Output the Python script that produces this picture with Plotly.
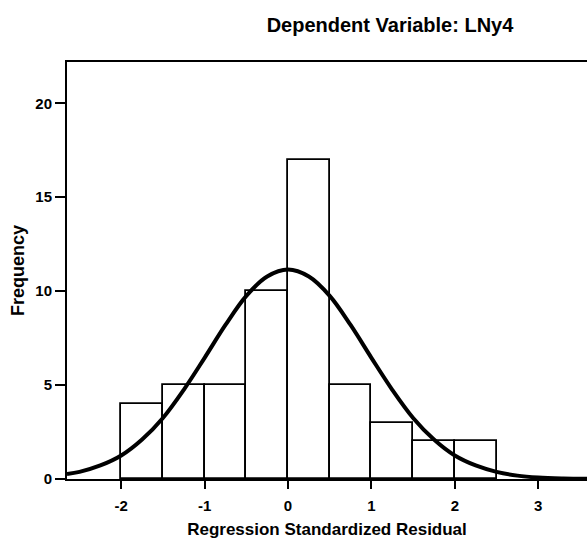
import plotly.graph_objects as go

# Histogram bins (left edges), width 0.5
bin_left = [-2.0, -1.5, -1.0, -0.5, 0.0, 0.5, 1.0, 1.5, 2.0]
counts = [4, 5, 5, 10, 17, 5, 3, 2, 2]
bin_width = 0.5

# Normal curve, values
curve_x = [-2.65, -2.5, -2.25, -2.0, -1.75, -1.5, -1.25, -1.0, -0.75, -0.5, -0.25, 0.0,
           0.25, 0.5, 0.75, 1.0, 1.25, 1.5, 1.75, 2.0, 2.25, 2.5, 2.75, 3.0, 3.3, 3.6]
curve_y = [0.27, 0.38, 0.72, 1.25, 2.1, 3.25, 4.75, 6.45, 8.2, 9.75, 10.78, 11.15,
           10.78, 9.75, 8.2, 6.45, 4.75, 3.25, 2.1, 1.25, 0.72, 0.38, 0.18, 0.08, 0.03, 0.01]

x_ticks = [-2, -1, 0, 1, 2, 3]
y_ticks = [0, 5, 10, 15, 20]

FONT = "Liberation Sans"

fig = go.Figure()
fig.add_trace(go.Bar(
    x=[b + bin_width / 2 for b in bin_left],
    y=counts,
    width=bin_width,
    marker=dict(color="white", line=dict(color="black", width=1.8)),
    showlegend=False,
))
fig.add_trace(go.Scatter(
    x=curve_x, y=curve_y, mode="lines",
    line=dict(color="black", width=4, shape="spline", smoothing=1.0),
    showlegend=False,
))

fig.update_layout(
    width=587, height=548,
    margin=dict(l=67, r=0, t=62, b=69),
    plot_bgcolor="white", paper_bgcolor="white",
    font=dict(family=FONT, color="black"),
    title=dict(text="<b>Dependent Variable: LNy4</b>", x=390/587, xanchor="center",
               y=1 - 25/548, yanchor="middle", font=dict(size=20, family=FONT)),
    bargap=0,
)
fig.update_xaxes(
    range=[-2.65, 3.585], tickvals=x_ticks, ticktext=[f"<b>{v}</b>" for v in x_ticks],
    showline=True, linecolor="black", linewidth=2, mirror=True,
    ticks="outside", ticklen=8, tickwidth=2, tickcolor="black",
    showgrid=False, zeroline=False, ticklabelstandoff=4,
    tickfont=dict(size=15, family=FONT),
    title=dict(text="<b>Regression Standardized Residual</b>", font=dict(size=17, family=FONT), standoff=10),
)
fig.update_yaxes(
    range=[0, 22.2], tickvals=y_ticks, ticktext=[f"<b>{v}</b>" for v in y_ticks],
    showline=True, linecolor="black", linewidth=2, mirror=False,
    ticks="outside", ticklen=10, tickwidth=2, tickcolor="black",
    showgrid=False, zeroline=False,
    tickfont=dict(size=15, family=FONT),
    title=dict(text="<b>Frequency</b>", font=dict(size=18, family=FONT), standoff=6),
)

fig.write_html("out.html")
